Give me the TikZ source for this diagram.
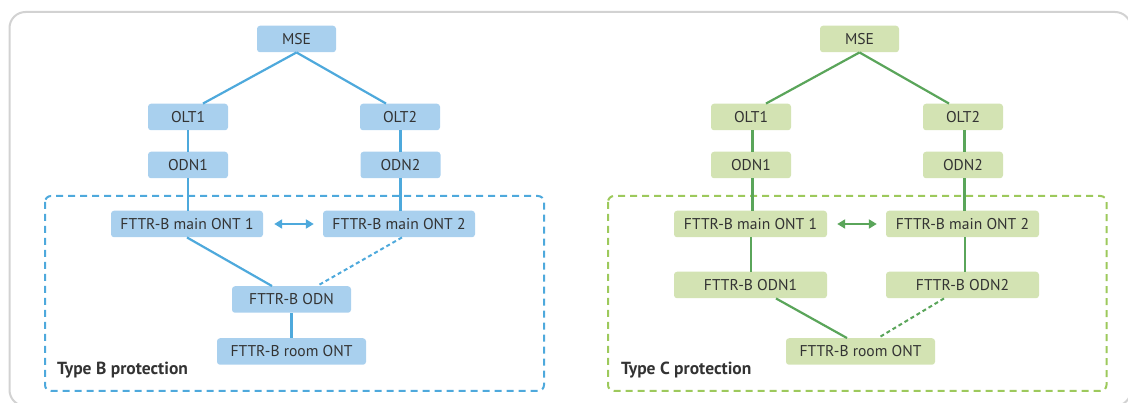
\documentclass[tikz,border=0pt]{standalone}
\usepackage{fontspec}
\setmainfont{PT Sans}
\usetikzlibrary{arrows.meta,calc}
\definecolor{bfill}{HTML}{A9D0EE}
\definecolor{bline}{HTML}{4EA9DC}
\definecolor{gfill}{HTML}{D3E3B3}
\definecolor{gline}{HTML}{5AA55A}
\definecolor{gdash}{HTML}{9DC95C}
\definecolor{txt}{HTML}{333333}
\definecolor{framegray}{HTML}{D2D2D2}

\tikzset{
  unit/.style={rectangle, rounded corners=3pt, inner sep=0pt,
    minimum height=26.5pt, text=txt, text height=11pt, text depth=0pt,
    font=\fontsize{15.6}{18}\selectfont},
  bluebox/.style={unit, fill=bfill},
  greenbox/.style={unit, fill=gfill},
  small/.style={minimum width=80pt},
  wide/.style={minimum width=153pt},
  link/.style={line width=2.2pt},
  backup/.style={line width=2pt, dash pattern=on 4pt off 3pt},
  zone/.style={line width=2pt, dash pattern=on 7pt off 5pt, rounded corners=6pt},
  zonelabel/.style={anchor=base west, inner sep=0pt, text=txt, font=\fontsize{17.5}{20}\selectfont\bfseries},
  swap/.style={line width=2.2pt, {Triangle[length=8pt,width=9pt]}-{Triangle[length=8pt,width=9pt]}}
}

\begin{document}
\begin{tikzpicture}[x=1pt,y=-1pt]
\useasboundingbox (0,0) rectangle (1128,403);

% outer frame
\draw[framegray, line width=2pt, rounded corners=16pt] (9.5,12) rectangle (1131,406);

% ---------------- Type B ----------------
\draw[bline, zone] (45,196) rectangle (544,391);
\node[zonelabel] (blabel) at (57,375) {Type B protection};

\node[bluebox, minimum width=79pt] (bmse) at (296.5,39) {MSE};
\node[bluebox, small] (bolt1) at (188,117) {OLT1};
\node[bluebox, small] (bolt2) at (400,117) {OLT2};
\node[bluebox, small] (bodn1) at (188,165) {ODN1};
\node[bluebox, small] (bodn2) at (400.5,165) {ODN2};
\node[bluebox, wide, minimum width=152pt] (bont1) at (187,224) {FTTR-B main ONT 1};
\node[bluebox, wide, minimum width=152pt] (bont2) at (399,224) {FTTR-B main ONT 2};
\node[bluebox, minimum width=119pt] (bodn) at (291.5,299.5) {FTTR-B ODN};
\node[bluebox, minimum width=149pt] (broom) at (291.5,351.5) {FTTR-B room ONT};

\begin{scope}[bline]
\draw[link] (bmse.south) -- ([xshift=15pt]bolt1.north);
\draw[link] (bmse.south) -- ([xshift=-14pt]bolt2.north);
\draw[link] (bolt1.south) -- (bodn1.north);
\draw[link] (bolt2.south -| bodn2) -- (bodn2.north);
\draw[link] (bodn1.south) -- (bodn1.south |- bont1.north);
\draw[link] (bodn2.south) -- (bodn2.south |- bont2.north);
\draw[swap] ([xshift=11pt]bont1.east) -- ([xshift=-9pt]bont2.west);
\draw[link] (bont1.south) -- ([xshift=-19.5pt]bodn.north);
\draw[backup] ([xshift=3pt]bont2.south) -- ([xshift=25.5pt]bodn.north);
\draw[link] (bodn.south) -- (broom.north);
\end{scope}

% ---------------- Type C ----------------
\draw[gdash, zone] (608,196) rectangle (1106.5,391);
\node[zonelabel] (glabel) at (621,375) {Type C protection};

\node[greenbox, minimum width=79pt] (gmse) at (859.5,39) {MSE};
\node[greenbox, small] (golt1) at (751,117) {OLT1};
\node[greenbox, small] (golt2) at (963,117) {OLT2};
\node[greenbox, small] (godn1) at (751,165) {ODN1};
\node[greenbox, small] (godn2) at (963,165) {ODN2};
\node[greenbox, wide] (gont1) at (750.5,224) {FTTR-B main ONT 1};
\node[greenbox, wide] (gont2) at (962.5,224) {FTTR-B main ONT 2};
\node[greenbox, wide] (gfodn1) at (750.5,285) {FTTR-B ODN1};
\node[greenbox, wide] (gfodn2) at (962.5,285) {FTTR-B ODN2};
\node[greenbox, minimum width=149pt] (groom) at (860.5,351.5) {FTTR-B room ONT};

\begin{scope}[gline]
\draw[link] (gmse.south) -- ([xshift=15pt]golt1.north);
\draw[link] (gmse.south) -- ([xshift=-14pt]golt2.north);
\draw[link] ([xshift=1.5pt]golt1.south) -- ([xshift=1.5pt]godn1.north);
\draw[link] ([xshift=1.5pt]golt2.south) -- ([xshift=1.5pt]godn2.north);
\draw[link] ([xshift=1.5pt]godn1.south) -- ([xshift=1.5pt]godn1.south |- gont1.north);
\draw[link] ([xshift=1.5pt]godn2.south) -- ([xshift=1.5pt]godn2.south |- gont2.north);
\draw[swap] ([xshift=10pt]gont1.east) -- ([xshift=-9pt]gont2.west);
\draw[link] ([xshift=0.5pt]gont1.south) -- ([xshift=0.5pt]gfodn1.north);
\draw[link] ([xshift=2.5pt]gont2.south) -- ([xshift=2.5pt]gfodn2.north);
\draw[link] ([xshift=25.5pt]gfodn1.south) -- ([xshift=-13.5pt]groom.north);
\draw[backup] ([xshift=-18.5pt]gfodn2.south) -- ([xshift=17.5pt]groom.north);
\end{scope}
\end{tikzpicture}
\end{document}
